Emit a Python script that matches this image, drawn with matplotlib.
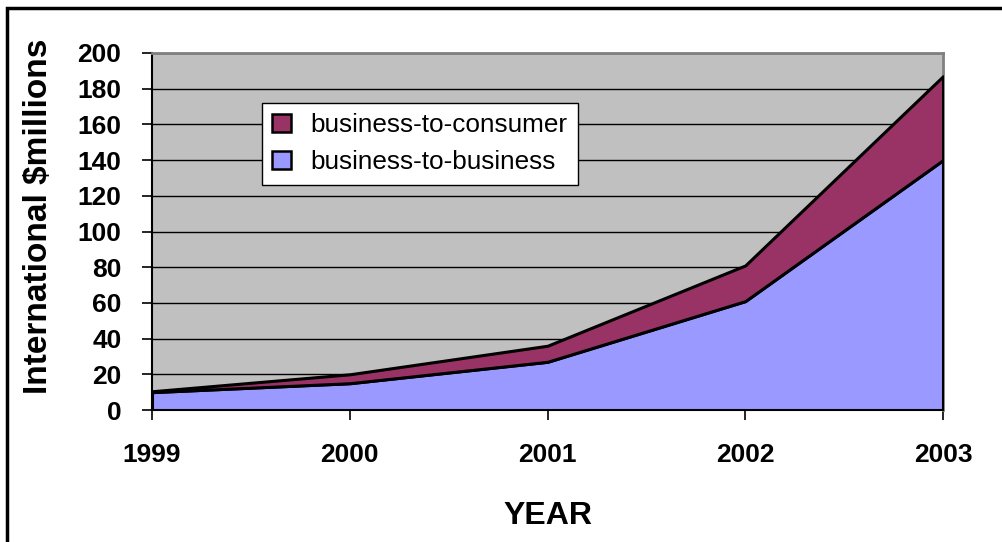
import matplotlib
matplotlib.use('Agg')
import matplotlib.pyplot as plt
from matplotlib.patches import Patch, Rectangle

years = [1999, 2000, 2001, 2002, 2003]
b2b = [10, 15, 27, 61, 140]
b2c = [0.5, 5, 9, 20, 47]
yticks = list(range(0, 201, 20))

col_b2c = '#993366'
col_b2b = '#9999FF'

plt.rcParams['font.family'] = ['Liberation Sans', 'DejaVu Sans']

fig = plt.figure(figsize=(10.03, 5.42), dpi=100)
ax = fig.add_axes([152/1003, 1 - 410/542, 791/1003, 357/542])
ax.set_facecolor('#C0C0C0')

# stacked areas
ax.stackplot(years, b2b, b2c, colors=[col_b2b, col_b2c],
             edgecolor='black', linewidth=2.2, zorder=3)

ax.set_xlim(1999, 2003)
ax.set_ylim(0, 200)
ax.set_xticks(years)
ax.set_yticks(yticks)
ax.grid(axis='y', color='black', linewidth=1, zorder=1)
ax.set_axisbelow(True)

for s in ['top', 'right']:
    ax.spines[s].set_color('#808080')
    ax.spines[s].set_linewidth(2)
ax.spines['left'].set_color('black')
ax.spines['bottom'].set_color('black')
ax.spines['left'].set_linewidth(1.5)
ax.spines['bottom'].set_linewidth(1.5)

ax.tick_params(axis='y', length=7, width=1.2, pad=15, labelsize=19)
ax.tick_params(axis='x', length=7, width=1.2, pad=17, labelsize=19)
for lab in ax.get_xticklabels() + ax.get_yticklabels():
    lab.set_fontweight('bold')

ax.set_xlabel('YEAR', fontsize=23, fontweight='bold', labelpad=24)
ax.set_ylabel('International $millions', fontsize=24, fontweight='bold')
ax.yaxis.set_label_coords(-0.124, 0.543)

handles = [Patch(facecolor=col_b2c, edgecolor='black', linewidth=1.8, label='business-to-consumer'),
           Patch(facecolor=col_b2b, edgecolor='black', linewidth=1.8, label='business-to-business')]
leg = ax.legend(handles=handles, loc='upper left', bbox_to_anchor=(0.139, 0.860),
                borderaxespad=0, fontsize=18.8, handlelength=0.7, handleheight=0.7,
                handletextpad=0.75, labelspacing=0.5, borderpad=0.4,
                fancybox=False, framealpha=1, edgecolor='black')
leg.get_frame().set_linewidth(1)
leg.set_zorder(5)

# outer border of the chart
fig.patches.append(Rectangle((7/1003, -0.1), 1.1, 1 - 8/542 + 0.1, transform=fig.transFigure,
                             fill=False, edgecolor='black', linewidth=2.5))

fig.savefig('out.png', dpi=100)
